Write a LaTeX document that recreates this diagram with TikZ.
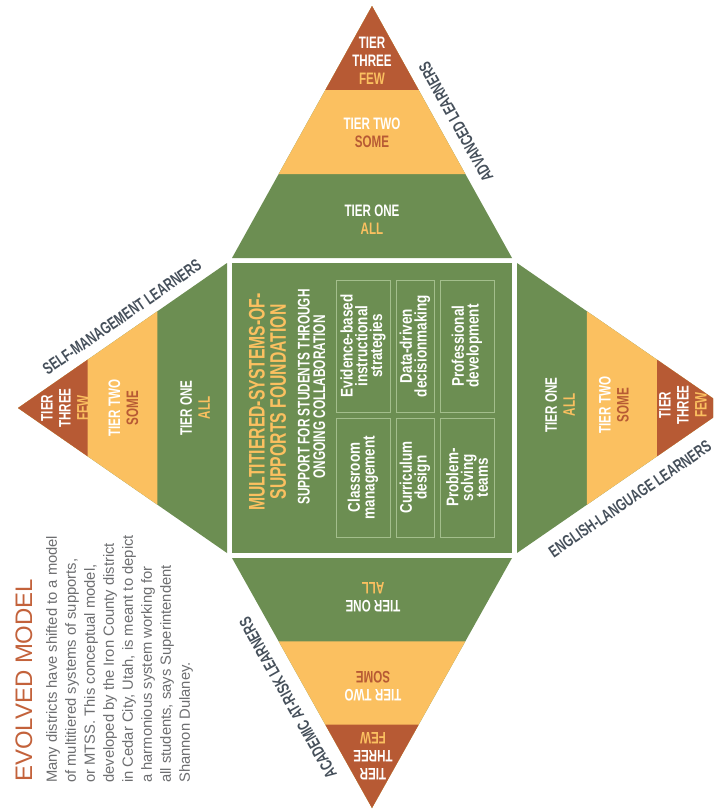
\documentclass[tikz,border=0pt]{standalone}
\usepackage{fontspec}
\setmainfont{Liberation Sans}
\newfontfamily\condfont[FakeStretch=0.7]{Liberation Sans}
\newfontfamily\boxfont[FakeStretch=0.8]{Liberation Sans}
\usetikzlibrary{calc}
\definecolor{mtssgreen}{HTML}{6C8E52}
\definecolor{mtssyellow}{HTML}{FBC060}
\definecolor{mtssrust}{HTML}{B75A34}
\definecolor{boxline}{HTML}{A3BE8C}
\definecolor{labelgray}{HTML}{46505B}
\definecolor{bodygray}{HTML}{6D6E70}
\definecolor{titlerust}{HTML}{C3623B}
\def\tieredtri(#1)(#2)(#3){\fill[mtssgreen] (#1) -- (#2) -- (#3) -- cycle;
  \fill[mtssyellow] (#1) -- ($(#1)!0.6667!(#2)$) -- ($(#1)!0.6667!(#3)$) -- cycle;
  \fill[mtssrust] (#1) -- ($(#1)!0.3333!(#2)$) -- ($(#1)!0.3333!(#3)$) -- cycle;}
\def\few{\textcolor{mtssyellow}{FEW}}
\def\some{\textcolor{mtssrust}{SOME}}
\def\all{\textcolor{mtssyellow}{ALL}}
\tikzset{
  tiertext/.style={text=white, align=center, inner sep=0pt,
    font=\condfont\bfseries\fontsize{11.8}{12.8}\selectfont},
  sidelabel/.style={text=labelgray, inner sep=0pt,
    font=\condfont\bfseries\fontsize{12}{13}\selectfont},
  titletext/.style={rotate=90, text=mtssyellow, align=center, inner sep=0pt,
    font=\condfont\bfseries\fontsize{16}{15}\selectfont},
  subtext/.style={rotate=90, text=white, align=center, inner sep=0pt,
    font=\condfont\bfseries\fontsize{12}{11}\selectfont},
  itembox/.style={rotate=90, draw=boxline, line width=0.6pt, text=white, align=center,
    inner sep=0pt, font=\boxfont\bfseries\fontsize{12}{10.5}\selectfont}
}

\begin{document}
\begin{tikzpicture}[x=0.025cm, y=-0.025cm]
		%%%%% START %%%%%
		
		\path[use as bounding box, fill=white] (0,0) rectangle (713,811);
		\clip (0,0) rectangle (713,811);
		
		% foundation square
		\fill[mtssgreen] (232,263) rectangle (512,553);
		
		% four pyramids: apex, then the two base corners
		\tieredtri(372,6)(232,258)(512,258)
		\tieredtri(18,408)(227,263)(227,553)
		\tieredtri(727,408)(517,263)(517,553)
		\tieredtri(372,808)(232,558)(512,558)
		
		\node[tiertext] (topthree) at (372,61) {TIER\\THREE\\\few};
		\node[tiertext] (toptwo) at (372,133) {TIER TWO\\\some};
		\node[tiertext] (topone) at (372,220) {TIER ONE\\\all};
		
		\node[tiertext, rotate=90] (leftthree) at (65,408) {TIER\\THREE\\\few};
		\node[tiertext, rotate=90] (lefttwo) at (123.5,408) {TIER TWO\\\some};
		\node[tiertext, rotate=90] (leftone) at (195,408) {TIER ONE\\\all};
		
		\node[tiertext, rotate=90] (rightone) at (560,405) {TIER ONE\\\all};
		\node[tiertext, rotate=90] (righttwo) at (614,405) {TIER TWO\\\some};
		\node[tiertext, rotate=90] (rightthree) at (683,405) {TIER\\THREE\\\few};
		
		\node[tiertext, rotate=180] (bottomone) at (373,597.5) {TIER ONE\\\all};
		\node[tiertext, rotate=180] (bottomtwo) at (373,686.5) {TIER TWO\\\some};
		\node[tiertext, rotate=180] (bottomthree) at (373,756) {TIER\\THREE\\\few};
		
		% learner groups along the outer edges
		\node[sidelabel, rotate=119.3] (advanced) at (456,122) {ADVANCED LEARNERS};
		\node[sidelabel, rotate=34.7] (selfmgmt) at (122,317) {SELF-MANAGEMENT LEARNERS};
		\node[sidelabel, rotate=34.4] (english) at (630,499) {ENGLISH-LANGUAGE LEARNERS};
		\node[sidelabel, rotate=119.3] (atrisk) at (288,698) {ACADEMIC AT-RISK LEARNERS};
		
		% foundation
		\node[titletext] (title) at (267.5,402) {MULTITIERED-SYSTEMS-OF-\\SUPPORTS FOUNDATION};
		\node[subtext] (subtitle) at (311.5,397) {SUPPORT FOR STUDENTS THROUGH\\ONGOING COLLABORATION};
		
		\node[itembox, minimum width=3.3cm, minimum height=1.35cm] (evidence) at (363,346) {Evidence-based\\instructional\\strategies};
		\node[itembox, minimum width=2.975cm, minimum height=1.35cm] (classroom) at (363,477.5) {Classroom\\management};
		\node[itembox, minimum width=3.3cm, minimum height=0.95cm] (datadriven) at (415,346) {Data-driven\\decisionmaking};
		\node[itembox, minimum width=2.975cm, minimum height=0.95cm] (curriculum) at (415,477.5) {Curriculum\\design};
		\node[itembox, minimum width=3.3cm, minimum height=1.35cm] (professional) at (467,346) {Professional\\development};
		\node[itembox, minimum width=2.975cm, minimum height=1.35cm] (problem) at (467,477.5) {Problem-\\solving\\teams};
		
		% caption
		\node[rotate=90, anchor=base west, inner sep=0pt, text=titlerust,
		  font=\fontsize{17}{17}\selectfont] (evolved) at (32,782) {EVOLVED MODEL};
		\node[rotate=90, anchor=north west, align=left, inner sep=0pt, text=bodygray,
		  font=\fontsize{10.5}{13.5}\selectfont] (blurb) at (46,783)
		  {Many districts have shifted to a model\\of multitiered systems of supports,\\or MTSS. This conceptual model,\\developed by the Iron County district\\in Cedar City, Utah, is meant to depict\\a harmonious system working for\\all students, says Superintendent\\Shannon Dulaney.};
		
		%%%%% END %%%%%
	\end{tikzpicture}
\end{document}
